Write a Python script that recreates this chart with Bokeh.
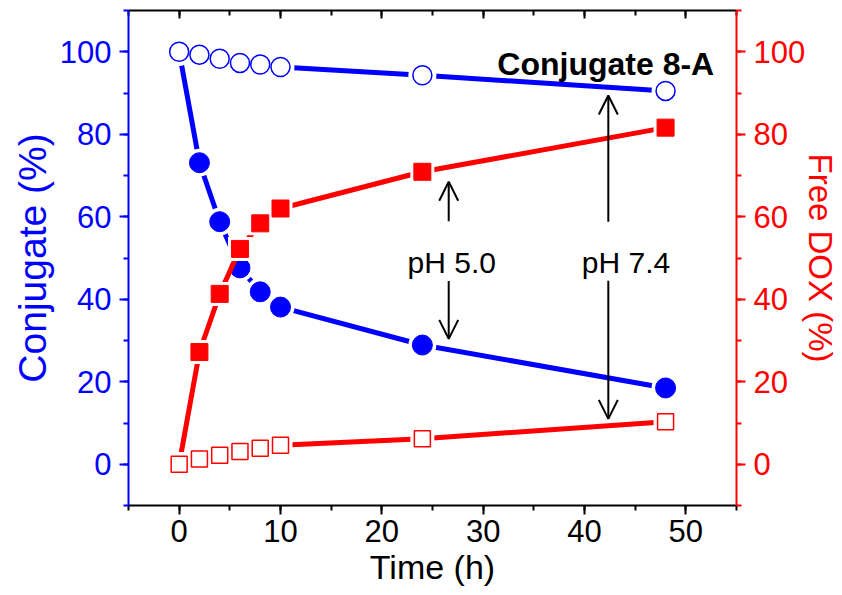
from bokeh.plotting import figure
from bokeh.models import (LinearAxis, Range1d, SingleIntervalTicker, Arrow, OpenHead,
                          ColumnDataSource, CustomLabelingPolicy)
from bokeh.core.properties import value
from bokeh.embed import file_html
from bokeh.resources import INLINE

# ---- data ----
time_h = [0, 2, 4, 6, 8, 10, 24, 48]
conj_ph50 = [100, 73.1, 58.8, 47.6, 41.8, 38.1, 28.9, 18.5]
conj_ph74 = [100, 99.3, 98.3, 97.3, 96.9, 96.3, 94.3, 90.5]
dox_ph50 = [0, 27.2, 41.3, 52.2, 58.4, 62.0, 70.9, 81.6]
dox_ph74 = [0, 1.3, 2.2, 3.1, 3.9, 4.6, 6.2, 10.3]

x_ticks_interval = 10
y_ticks_interval = 20

# annotations (data coordinates)
arrow_x = [26.6, 26.6, 42.35, 42.35]
arrow_y_start = [58.9, 44.4, 58.8, 44.5]
arrow_y_end = [68.5, 30.4, 89.4, 11.0]
ph_labels = ["pH 5.0", "pH 7.4"]
ph_label_x = [26.9, 44.1]
ph_label_y = [48.9, 48.9]
title_text = ["Conjugate 8-A"]
title_x = [52.8]
title_y = [97.1]

BLUE = "#0000FF"
RED = "#FF0000"
FONT = "Liberation Sans"

p = figure(width=842, height=595, x_range=Range1d(-5, 55), y_range=Range1d(-10, 110),
           output_backend="svg", toolbar_location=None,
           min_border_left=128, min_border_right=104, min_border_top=10, min_border_bottom=90)
p.extra_y_ranges = {"dox": Range1d(-10, 110)}
p.grid.visible = False
p.outline_line_color = None
p.background_fill_color = "white"
p.border_fill_color = "white"

def style_axis(ax, color, label, label_size, ticker):
    ax.ticker = ticker
    ax.axis_line_color = color
    ax.axis_line_width = 2
    ax.major_tick_line_color = color
    ax.minor_tick_line_color = color
    ax.major_tick_line_width = 2
    ax.minor_tick_line_width = 2
    ax.major_tick_out = 9
    ax.major_tick_in = 0
    ax.minor_tick_out = 5
    ax.minor_tick_in = 0
    ax.major_label_text_color = color
    ax.major_label_text_font = FONT
    ax.major_label_text_font_size = "31px"
    ax.axis_label = label
    ax.axis_label_text_color = color
    ax.axis_label_text_font = FONT
    ax.axis_label_text_font_size = label_size
    ax.axis_label_text_font_style = "normal"

xt = lambda: SingleIntervalTicker(interval=x_ticks_interval, num_minor_ticks=2)
yt = lambda: SingleIntervalTicker(interval=y_ticks_interval, num_minor_ticks=2)

bottom = p.xaxis[0]
style_axis(bottom, "black", "Time (h)", "34px", xt())
bottom.major_label_standoff = 5
bottom.axis_label_standoff = 3

left = p.yaxis[0]
style_axis(left, BLUE, "Conjugate (%)", "39px", yt())
left.major_label_standoff = 8
left.axis_label_standoff = 3

right = LinearAxis(y_range_name="dox")
style_axis(right, RED, "Free DOX (%)", "33px", yt())
right.major_label_standoff = 8
right.axis_label_standoff = -6
p.add_layout(right, "right")

top = LinearAxis()
top.ticker = xt()
top.axis_line_color = "black"
top.axis_line_width = 2
top.major_tick_line_width = 2
top.minor_tick_line_width = 2
top.major_tick_in = 8
top.major_tick_out = 0
top.minor_tick_in = 5
top.minor_tick_out = 0
top.major_label_text_font_size = "1px"
top.major_label_standoff = 0
top.major_label_policy = CustomLabelingPolicy(code="return new Set()")
p.add_layout(top, "above")

LW = 5

# blue, pH 5.0 (filled circles)
p.line(time_h, conj_ph50, line_color=BLUE, line_width=LW)
p.scatter(time_h, conj_ph50, marker="circle", size=28, fill_color="white", line_color=None)
p.scatter(time_h[1:], conj_ph50[1:], marker="circle", size=20, fill_color=BLUE, line_color=BLUE)

# blue, pH 7.4 (open circles)
p.line(time_h, conj_ph74, line_color=BLUE, line_width=LW)
p.scatter(time_h, conj_ph74, marker="circle", size=28, fill_color="white", line_color=None)
p.scatter(time_h, conj_ph74, marker="circle", size=19, fill_color="white", line_color=BLUE, line_width=1.5)

# red, pH 5.0 (filled squares)
p.line(time_h, dox_ph50, line_color=RED, line_width=LW, y_range_name="dox")
p.scatter(time_h, dox_ph50, marker="square", size=24, fill_color="white", line_color=None, y_range_name="dox")
p.scatter(time_h[1:], dox_ph50[1:], marker="square", size=17, fill_color=RED, line_color=RED, y_range_name="dox")

# red, pH 7.4 (open squares)
p.line(time_h, dox_ph74, line_color=RED, line_width=LW, y_range_name="dox")
p.scatter(time_h, dox_ph74, marker="square", size=24, fill_color="white", line_color=None, y_range_name="dox")
p.scatter(time_h, dox_ph74, marker="square", size=16, fill_color="white", line_color=RED, line_width=1.5, y_range_name="dox")

# arrows
asrc = ColumnDataSource(dict(x0=arrow_x, y0=arrow_y_start, x1=arrow_x, y1=arrow_y_end))
p.add_layout(Arrow(source=asrc, x_start="x0", y_start="y0", x_end="x1", y_end="y1",
                   line_color="black", line_width=2,
                   end=OpenHead(size=19, line_width=2, line_color="black")))

p.text(ph_label_x, ph_label_y, text=ph_labels, text_font=value(FONT), text_font_size=value("30px"),
       text_align="center", text_baseline="alphabetic", text_color="black")
p.text(title_x, title_y, text=title_text, text_font=value(FONT), text_font_size=value("32px"),
       text_font_style="bold", text_align="right", text_baseline="alphabetic", text_color="black")

open("out.html", "w").write(file_html(p, INLINE))
